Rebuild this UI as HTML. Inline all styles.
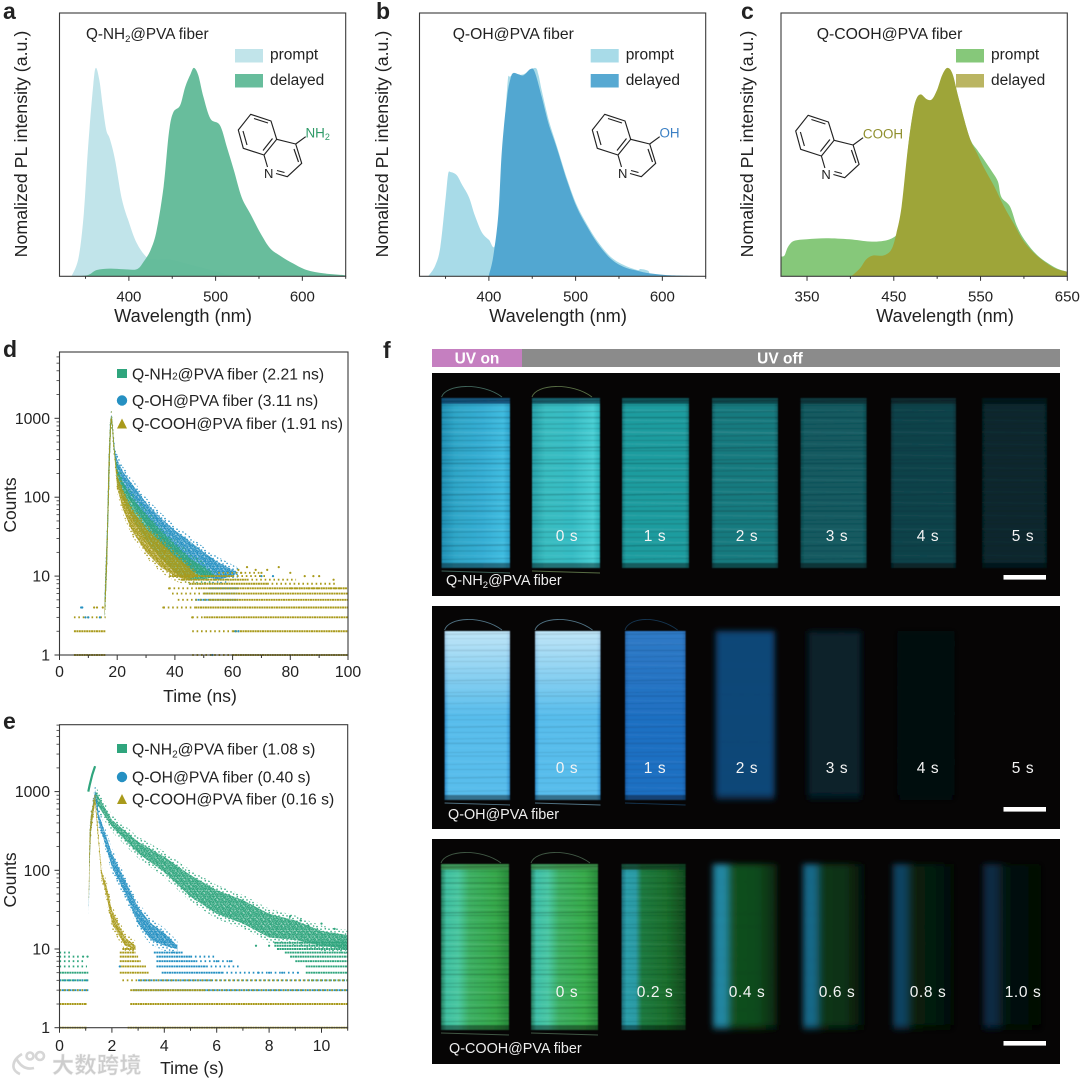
<!DOCTYPE html>
<html lang="en">
<head>
<meta charset="utf-8">
<title>Quinoline PVA fiber photoluminescence figure</title>
<style>
html,body{margin:0;padding:0;background:#fff;width:1080px;height:1081px;overflow:hidden}
svg{display:block}
text{font-family:"Liberation Sans","Noto Sans CJK SC",sans-serif;fill:#222}
</style>
</head>
<body>
<svg id="figure" xmlns="http://www.w3.org/2000/svg" width="1080" height="1081" viewBox="0 0 1080 1081">
<defs>
<filter id="soft" x="-10%" y="-10%" width="120%" height="120%"><feGaussianBlur stdDeviation="0.6"/></filter>
<filter id="softer" x="-15%" y="-10%" width="130%" height="120%"><feGaussianBlur stdDeviation="3"/></filter>
<linearGradient id="top-glow" x1="0" x2="0" y1="0" y2="1"><stop offset="0" stop-color="#fff" stop-opacity=".62"/><stop offset="1" stop-color="#fff" stop-opacity="0"/></linearGradient>
<pattern id="grain-green" width="6.6" height="6.6" patternUnits="userSpaceOnUse"></pattern>
<pattern id="grain-blue" width="6.6" height="6.6" patternUnits="userSpaceOnUse"></pattern>
<pattern id="grain-olive" width="6.6" height="6.6" patternUnits="userSpaceOnUse"></pattern>
<pattern id="halo-green" width="8" height="8" patternUnits="userSpaceOnUse"></pattern>
<pattern id="halo-blue" width="8" height="8" patternUnits="userSpaceOnUse"></pattern>
<pattern id="halo-olive" width="8" height="8" patternUnits="userSpaceOnUse"></pattern>
</defs>
<rect width="1080" height="1081" fill="#fff"/>

<text x="3" y="19" font-size="23" font-weight="bold" fill="#111">a</text>
<text x="376" y="19" font-size="23" font-weight="bold" fill="#111">b</text>
<text x="741" y="19" font-size="23" font-weight="bold" fill="#111">c</text>
<text x="3" y="357" font-size="23" font-weight="bold" fill="#111">d</text>
<text x="3" y="729" font-size="23" font-weight="bold" fill="#111">e</text>
<text x="383" y="358" font-size="23" font-weight="bold" fill="#111">f</text>

<g id="chart-a"></g>
<g id="chart-b"></g>
<g id="chart-c"></g>
<g id="chart-d"></g>
<g id="chart-e"></g>

<g>
<rect x="432" y="349" width="90" height="18" fill="#c57fc0"/>
<rect x="522" y="349" width="538" height="18" fill="#8b8b8b"/>
<text x="477" y="363.5" font-size="15.5" font-weight="bold" text-anchor="middle" style="fill:#fff">UV on</text>
<text x="780" y="363.5" font-size="15.5" font-weight="bold" text-anchor="middle" style="fill:#fff">UV off</text>
</g>
<g id="photos"></g>

<g opacity=".9">
<g fill="none" stroke="#d2d2d2" stroke-width="2.6">
<path d="M22 1054 C12 1060 10 1070 20 1074"/><path d="M16 1058 C20 1066 26 1070 34 1068"/>
<circle cx="30" cy="1056" r="3.5"/><circle cx="40" cy="1056" r="4"/>
</g>
<text x="52" y="1073" font-size="22" font-weight="bold" letter-spacing="0.5" style="fill:#c8c8c8;stroke:#eeeeee;stroke-width:.5">大数跨境</text>
</g>
</svg>

<script>
/* ---------- Panel a spectra (wavelength nm, normalized intensity) ---------- */
const aPromptWl  = [334,342,348,353,359,362,366,370,374,378,384,392,400,409,421,432,448,467,490,513,528];
const aPromptVal = [0,.09,.30,.62,.92,1,.94,.81,.70,.66,.56,.37,.26,.16,.09,.08,.08,.06,.035,.01,0];
const aDelayedWl  = [334,352,363,378,394,409,417,425,432,440,446,451,459,465,471,475,480,486,494,505,513,521,530,540,552,563,575,590,605,625,650];
const aDelayedVal = [0,.005,.03,.037,.034,.034,.07,.126,.22,.43,.685,.785,.82,.91,.97,1,.965,.86,.757,.725,.62,.51,.38,.30,.205,.134,.097,.06,.03,.014,.005];

/* ---------- Panel b spectra ---------- */
const bPromptWl  = [330,338,344,350,353,356,363,369,377,384,392,400,407,413,421,425,440,453,457,461,469,478,490,501,513,525,540,555,571,575,584,585];
const bPromptVal = [0,.05,.14,.37,.49,.50,.485,.44,.38,.29,.21,.175,.15,.37,.90,.96,.97,1,.97,.89,.75,.63,.47,.345,.25,.17,.095,.055,.03,.035,.025,0];
const bDelayedWl  = [400,405,411,415,421,425,428,434,440,448,453,461,469,478,490,501,513,525,540,555,571,586,609,650];
const bDelayedVal = [.006,.094,.30,.605,.86,.95,.975,.97,.965,.995,.98,.86,.73,.62,.46,.335,.24,.16,.086,.046,.027,.014,.005,0];

/* ---------- Panel c spectra ---------- */
const cPromptWl  = [320,324,328,335,350,372,399,422,438,450,455,461,466,472,476,481,488,494,500,506,512,518,525,537,546,554,562,570,574,584,592,602,617,637,650];
const cPromptVal = [.095,.10,.14,.17,.178,.183,.178,.167,.17,.187,.22,.335,.60,.78,.85,.87,.84,.84,.89,.96,1,.96,.85,.67,.607,.56,.51,.455,.38,.335,.24,.167,.095,.04,.022];
const cDelayedWl  = [401,411,418,426,438,447,453,459,466,472,476,481,488,494,500,506,512,518,525,537,546,554,566,577,589,600,616,635,650];
const cDelayedVal = [0,.038,.08,.10,.10,.127,.207,.335,.607,.784,.85,.873,.85,.85,.896,.968,1,.968,.85,.67,.59,.52,.43,.335,.247,.167,.095,.04,.022];

const spectrumMajorA = [400,500,600];
const spectrumMinorA = [350,450,550,650];
const spectrumMajorC = [350,450,550,650];
const spectrumMinorC = [400,500,600];

/* ---------- Panel d decay (time ns, counts): cloud envelopes ---------- */
const dOhTimes  = [15.6,16,16.5,17,17.5,17.9,18.2,18.7,19.2,20,22,25,30,35,40,45,50,55,60,62];
const dOhUpper  = [5,14,45,280,850,1100,1050,620,400,300,210,150,85,55,38,28,20,15,12,11];
const dOhLower  = [3,5,14,70,350,850,800,480,320,190,130,85,45,27,17,12,10,9,10,11];
const dNh2Times = [15.6,16,16.5,17,17.5,17.9,18.2,18.7,19.2,20,22,25,30,35,40,45,50,54];
const dNh2Upper = [4,12,40,250,800,1080,1030,600,360,230,155,100,60,38,25,17,13,10];
const dNh2Lower = [3,5,14,70,350,850,800,450,300,150,95,55,28,17,11,9,9,10];
const dCoohTimes = [15.6,16,16.5,17,17.5,17.9,18.2,18.7,19.2,20,22,25,30,35,40,44,48];
const dCoohUpper = [4,12,40,250,800,1080,1030,600,350,190,120,70,40,27,18,14,10];
const dCoohLower = [3,5,14,70,350,850,800,450,280,130,70,38,20,13,10,9,10];

/* row counts for the discrete low-count levels: level, first time, last time */
const dCoohDenseLevels = [1,2,1,2,3,4,5,6,7,8,9,10];
const dCoohDenseStarts = [5,5,60,60,50,47,52,50,48,45,42,38];
const dCoohDenseEnds   = [16,16,100,100,100,100,100,100,100,72,65,60];
const dCoohSparseLevels = [3,1,2,3,4,5,6,7,7,8,9,10,11];
const dCoohSparseStarts = [5,46,46,46,36,41,39,38,80,72,65,60,55];
const dCoohSparseEnds   = [16,60,60,50,47,52,50,48,100,96,82,72,70];
const dOhDenseLevels = [5,6,7];
const dOhDenseStarts = [47,50,52];
const dOhDenseEnds   = [62,62,62];
const dOutlierCoohTimes = [12,13,15,36,38,46,62,65,68,72,76,80,85,88,90,95,63,70];
const dOutlierCoohCounts = [4,4,4,4,7,3,12,13,12,12,13,11,10,10,10,9,11,11];
const dOutlierOhTimes = [7.5,7.9,9,10,14,53,61,62,70,74];
const dOutlierOhCounts = [4,4,3,3,3,1,2,2,10,10];

const dXTicks = [0,20,40,60,80,100];
const dXMinor = [10,30,50,70,90];
const dYTicks = [1,10,100,1000];

/* ---------- Panel e decay (time s, counts) ---------- */
const eNh2Times = [1.36,1.4,2,3,4,5,6,7,8,9,10,11];
const eNh2Upper = [1000,975,437,230,149,87,56,42,28,23,17,15];
const eNh2Lower = [960,710,358,165,95,46,28,21,14,13,11,10];
const eNh2BurstTimes = [1.1,1.15,1.2,1.25,1.3,1.36];
const eNh2BurstCounts = [1000,1200,1400,1650,1850,2100];
const eOhTimes = [1.12,1.15,1.2,1.3,1.36,1.5,2,2.5,3,3.5,4,4.5];
const eOhUpper = [40,300,500,800,1050,520,164,75,34,21,16,11];
const eOhLower = [30,120,300,600,800,400,110,51,21,13,11,10];
const eCoohTimes = [1.12,1.15,1.2,1.3,1.36,1.6,1.8,2,2.5,2.9];
const eCoohUpper = [60,300,500,750,920,100,62,31,14,11];
const eCoohLower = [40,120,300,550,700,85,46,21,11,10];

const eNh2DenseLevels = [5,4,10,11,12,9,8,7,6,5];
const eNh2DenseStarts = [0,0,8.3,8.2,8.2,8.6,8.8,9.0,9.4,9.4];
const eNh2DenseEnds   = [1.1,1.1,11,11,11,11,11,11,11,11];
const eNh2SparseLevels = [6,7,8,9,4];
const eNh2SparseStarts = [0,0,0,0,9.6];
const eNh2SparseEnds   = [1.05,.9,.8,.5,11];
const eOhDenseLevels = [3,5,6,7,8,9,4,3];
const eOhDenseStarts = [0,3.9,3.7,3.7,3.7,3.6,3.0,2.8];
const eOhDenseEnds   = [1.1,6.2,5.6,5.2,5.0,4.7,5.8,11];
const eOhSparseLevels = [4,5,6,7,8,4];
const eOhSparseStarts = [0,6.2,5.6,5.2,5.0,5.8];
const eOhSparseEnds   = [1.1,9,6.9,6.6,6,11];
const eCoohDenseLevels = [1,2,1,2,3,10,9,8,7,6,5];
const eCoohDenseStarts = [0,0,2.6,2.7,2.7,2.4,2.3,2.3,2.3,2.3,2.3];
const eCoohDenseEnds   = [1.05,1.05,11,11,5.5,2.9,2.9,3,3.1,3.3,3.4];
const eCoohSparseLevels = [3,3,4];
const eCoohSparseStarts = [0,5.5,2.4];
const eCoohSparseEnds   = [1.05,11,11];
const eOutlierNh2Times = [7.5,8,9.2,9.5,10,10.5,1.07,.9,8.8];
const eOutlierNh2Counts = [11,11,23,20,21,18,8,8,26];
const eOutlierOhTimes = [6,6.5,7.6,8,8.5,9.1,2.3];
const eOutlierOhCounts = [7,7,5,5,5,5,6];

const eXTicks = [0,2,4,6,8,10];
const eXMinor = [1,3,5,7,9,11];
const eYTicks = [1,10,100,1000];

const logMinorMultipliers = [2,3,4,5,6,7,8,9];

/* ---------- Photo content ---------- */
const streakFractions = [.02,.045,.07,.085,.115,.13,.155,.18,.2,.225,.25,.27,.295,.31,.335,.365,.385,.41,.43,.46,.48,.5,.525,.55,.57,.6,.615,.64,.665,.69,.72,.74,.77,.79,.82,.845,.87,.9,.925,.95];
const timeLabelsSeconds = ['0 s','1 s','2 s','3 s','4 s','5 s'];
const timeLabelsFraction = ['0 s','0.2 s','0.4 s','0.6 s','0.8 s','1.0 s'];

const NS = 'http://www.w3.org/2000/svg';
function el(tag, attrs, parent){
  const n = document.createElementNS(NS, tag);
  for (const k in attrs) n.setAttribute(k, attrs[k]);
  if (parent) parent.appendChild(n);
  return n;
}
function txt(content, attrs, parent){
  const n = el('text', attrs, parent);
  n.textContent = content;
  return n;
}

/* marker texture tiles used to give the point clouds a speckled look */
const denseTile = [[.6,.9],[2.4,.4],[4.3,1.1],[5.9,.3],[1.4,2.3],[3.2,2.2],[5.1,2.7],[.3,3.8],[2.2,3.9],[4.1,3.7],[6,4.2],[1.1,5.4],[3,5.6],[4.9,5.2],[6.2,6]];
const sparseTile = [[1,1.2],[5.3,.8],[3.1,3.4],[7,3.9],[1.6,6],[5,6.6]];
[['green','#2fa57d'],['blue','#2590c2'],['olive','#a99a1b']].forEach(([k,c]) => {
  const a = document.getElementById('grain-'+k);
  el('rect',{width:6.6,height:6.6,fill:c,opacity:.4},a);
  denseTile.forEach(p => el('circle',{cx:p[0],cy:p[1],r:.85,fill:c},a));
  const b = document.getElementById('halo-'+k);
  sparseTile.forEach(p => el('circle',{cx:p[0],cy:p[1],r:.8,fill:c},b));
});

/* ---------- generic axes ---------- */
function boxFrame(g, L, R, T, B){
  const r = el('rect',{x:L,y:T,width:R-L,height:B-T,fill:'none',stroke:'#3a3a3a','stroke-width':1.1},g);
  
  
}
function xTick(g, px, B, len){
  const t = el('line',{x1:px,x2:px,y1:B,y2:B+len,stroke:'#333','stroke-width':1},g);
  
  
}
function xTickLabel(g, value, px, y, size){
  const t = txt(String(value),{x:px,y:y,'font-size':size,'text-anchor':'middle'},g);
  
  
}

/* ---------- spectrum panel ---------- */
function spectrumPanel(id, L, R, titleSeries, opts){
  const g = document.getElementById(id);
  const T = 13, B = 276.3, wlMin = 320, wlMax = 650, yMax = 1.2636;
  const x = w => L + (w - wlMin) / (wlMax - wlMin) * (R - L);
  const y = v => B - v / yMax * (B - T);
  function area(wl, vals, fill, op, name){
    const P = wl.map((w,i) => [x(w), y(vals[i])]);
    let d = 'M' + P[0][0].toFixed(1) + ' ' + y(0).toFixed(1) + 'L' + P[0][0].toFixed(1) + ' ' + P[0][1].toFixed(1);
    for (let i = 0; i < P.length - 1; i++){
      const p0 = P[Math.max(i-1,0)], p1 = P[i], p2 = P[i+1], p3 = P[Math.min(i+2,P.length-1)];
      const c1x = p1[0] + (p2[0]-p0[0])/6, c1y = Math.min(p1[1] + (p2[1]-p0[1])/6, B);
      const c2x = p2[0] - (p3[0]-p1[0])/6, c2y = Math.min(p2[1] - (p3[1]-p1[1])/6, B);
      d += 'C' + c1x.toFixed(1)+' '+c1y.toFixed(1)+' '+c2x.toFixed(1)+' '+c2y.toFixed(1)+' '+p2[0].toFixed(1)+' '+p2[1].toFixed(1);
    }
    d += 'L' + P[P.length-1][0].toFixed(1) + ' ' + y(0).toFixed(1) + 'Z';
    const p = el('path',{d:d,fill:fill,opacity:op},g);
    
    
  }
  area(opts.promptWl, opts.promptVal, opts.promptColor, 1, 'prompt-area');
  area(opts.delayedWl, opts.delayedVal, opts.delayedColor, opts.delayedOpacity, 'delayed-area');
  boxFrame(g, L, R, T, B);
  opts.major.forEach(w => { xTick(g, x(w), B, 4.5); xTickLabel(g, w, x(w), 301.5, 15); });
  opts.minor.forEach(w => { xTick(g, x(w), B, 2.5); });
  const xt = txt('Wavelength (nm)',{x:opts.xTitleX,y:322,'font-size':18.2,'text-anchor':'middle'},g);
  
  
  const yt = txt('Nomalized PL intensity (a.u.)',{x:0,y:0,'font-size':17.8,'text-anchor':'middle',transform:'translate('+opts.yTitleX+',144) rotate(-90)'},g);
  
  
  /* sample title */
  const title = el('text',{x:opts.titleX,y:39,'font-size':opts.titleSize},g);
  
  
  titleSeries.forEach(part => {
    const s = el('tspan', part[1] ? {'font-size':9.5,dy:3} : {dy:part[2]||0}, title);
    s.textContent = part[0];
  });
  /* legend */
  const sw = opts.legendX;
  const s1 = el('rect',{x:sw,y:49,width:28,height:13.5,fill:opts.promptColor},g);
  
  
  const s2 = el('rect',{x:sw,y:74,width:28,height:13.5,fill:opts.legendDelayed},g);
  
  
  const l1 = txt('prompt',{x:sw+35,y:59.5,'font-size':15.5},g);
  
  
  const l2 = txt('delayed',{x:sw+35,y:85,'font-size':15.5},g);
  
  
  molecule(g, opts.molDx, opts.molDy, opts.subst, opts.substColor);
}

/* ---------- quinoline structure ---------- */
function molecule(g, dx, dy, subst, color){
  const m = el('g',{transform:'translate('+dx+','+dy+')',fill:'none',stroke:'#222','stroke-width':1.15,'stroke-linejoin':'round'},g);
  
  
  el('path',{d:'M264 155L243.3 148.3L238.3 130L250.7 114.3L271 121L276.7 139.3L264 155L267.5 167'},m);
  el('path',{d:'M276.7 139.3L295.7 144L301.7 163.3L287.3 176.7L276 173.5'},m);
  el('path',{d:'M295.7 144L305.7 136.7'},m);
  el('path',{d:'M254 118.5L268 123'},m);
  el('path',{d:'M243 131L247 145'},m);
  el('path',{d:'M272.5 138.5L263 150.5'},m);
  el('path',{d:'M294 149L298.5 162'},m);
  el('path',{d:'M284.5 172.5L277 170.5'},m);
  const n = txt('N',{x:264,y:178,'font-size':13,style:'fill:#222;stroke:none'},m);
  
  
  const s = el('text',{x:305.5,y:137.5,'font-size':13.4,style:'fill:'+color+';stroke:none'},m);
  
  
  subst.forEach(part => {
    const t = el('tspan', part[1] ? {'font-size':9,dy:2.5} : {}, s);
    t.textContent = part[0];
  });
}

spectrumPanel('chart-a',59.5,345.7,[['Q-NH'],['2',1],['@PVA fiber',0,-3]],{
  promptWl:aPromptWl,promptVal:aPromptVal,delayedWl:aDelayedWl,delayedVal:aDelayedVal,
  promptColor:'#c1e4ea',delayedColor:'#5fb996',delayedOpacity:.94,legendDelayed:'#67bd9c',
  major:spectrumMajorA,minor:spectrumMinorA,xTitleX:183,yTitleX:27,titleX:86,titleSize:15.3,legendX:235,
  molDx:0,molDy:0,subst:[['NH'],['2',1]],substColor:'#2f9a68'});
spectrumPanel('chart-b',419.5,705.7,[['Q-OH@PVA fiber']],{
  promptWl:bPromptWl,promptVal:bPromptVal,delayedWl:bDelayedWl,delayedVal:bDelayedVal,
  promptColor:'#a8dbe8',delayedColor:'#50a5cf',delayedOpacity:.97,legendDelayed:'#57a9d2',
  major:spectrumMajorA,minor:spectrumMinorA,xTitleX:558,yTitleX:388,titleX:452.7,titleSize:15.7,legendX:590.7,
  molDx:354,molDy:0,subst:[['OH']],substColor:'#3a7fc4'});
spectrumPanel('chart-c',781,1067.3,[['Q-COOH@PVA fiber']],{
  promptWl:cPromptWl,promptVal:cPromptVal,delayedWl:cDelayedWl,delayedVal:cDelayedVal,
  promptColor:'#86c87a',delayedColor:'#9ea539',delayedOpacity:1,legendDelayed:'#bab562',
  major:spectrumMajorC,minor:spectrumMinorC,xTitleX:945,yTitleX:753,titleX:816.7,titleSize:15.8,legendX:956,
  molDx:557.4,molDy:1,subst:[['COOH']],substColor:'#8f8f2e'});

/* ---------- decay panels ---------- */
function decayPanel(id, cfg){
  const g = document.getElementById(id);
  const {L,R,T,B,decade,xMax} = cfg;
  const x = t => L + t / xMax * (R - L);
  const y = c => B - Math.log10(c) * decade;
  const plot = el('g',{},g);
  
  
  function poly(times, up, low, fill, name){
    let d = '';
    times.forEach((t,i) => { d += (i ? 'L' : 'M') + x(t).toFixed(1) + ' ' + y(up[i]).toFixed(1); });
    for (let i = times.length - 1; i >= 0; i--) d += 'L' + x(times[i]).toFixed(1) + ' ' + y(low[i]).toFixed(1);
    const p = el('path',{d:d+'Z',fill:fill},plot);
    
    
  }
  function band(times, up, low, key, name){
    poly(times, up.map(v => v*1.16), low.map(v => v/1.16), 'url(#halo-'+key+')', name+'-scatter');
    poly(times, up, low, 'url(#grain-'+key+')', name);
  }
  function rows(levels, starts, ends, color, dash, name){
    levels.forEach((lv,i) => {
      const r = el('line',{x1:x(starts[i]),x2:x(Math.min(ends[i],xMax)),y1:y(lv),y2:y(lv),stroke:color,'stroke-width':1.9,'stroke-dasharray':dash},plot);
      
      
    });
  }
  function points(times, counts, color, name){
    times.forEach((t,i) => {
      const c = el('circle',{cx:x(t),cy:y(counts[i]),r:1.1,fill:color},plot);
      
      
    });
  }
  cfg.draw(band, rows, points, x, y, plot);
  boxFrame(g, L, R, T, B);
  cfg.xTicks.forEach(t => { xTick(g, x(t), B, 5); xTickLabel(g, t, x(t), cfg.xLabelY, 15.8); });
  cfg.xMinor.forEach(t => { xTick(g, x(t), B, 3); });
  cfg.yTicks.forEach(c => {
    const k = el('line',{x1:L-5,x2:L,y1:y(c),y2:y(c),stroke:'#333','stroke-width':1},g);
    
    
    const lb = txt(String(c),{x:50,y:y(c)+5.5,'font-size':15.8,'text-anchor':'end'},g);
    
    
    logMinorMultipliers.forEach(m => {
      const v = c * m;
      if (y(v) >= T) {
        const mk = el('line',{x1:L-3,x2:L,y1:y(v),y2:y(v),stroke:'#333','stroke-width':.8},g);
        
        
      }
    });
  });
  const xt = txt(cfg.xTitle,{x:cfg.xTitleX,y:cfg.xTitleY,'font-size':17.6,'text-anchor':'middle'},g);
  
  
  const yt = txt('Counts',{x:0,y:0,'font-size':17.4,'text-anchor':'middle',transform:'translate(16,'+cfg.yTitleY+') rotate(-90)'},g);
  
  
  cfg.legend.forEach(item => {
    const c = item.y;
    let m;
    if (item.shape === 'square') m = el('rect',{x:117,y:c-5,width:10,height:9,fill:item.color},g);
    else if (item.shape === 'circle') m = el('circle',{cx:122,cy:c,r:5.2,fill:item.color},g);
    else m = el('path',{d:'M117 '+(c+5)+'L122 '+(c-5)+'L127 '+(c+5)+'Z',fill:item.color},g);
    
    
    const t = el('text',{x:132,y:c+5.5,'font-size':15.7},g);
    
    
    item.parts.forEach(part => {
      const s = el('tspan', part[1] ? {'font-size':part[1],dy:part[2]} : {dy:part[2]||0}, t);
      s.textContent = part[0];
    });
  });
}

const GREEN = '#2fa57d', BLUE = '#2590c2', OLIVE = '#a99a1b';
const DENSE = '2 .45', SPARSE = '1.6 2.8';

decayPanel('chart-d',{
  L:59.5,R:348,T:352,B:655,decade:78.9,xMax:100,
  xTicks:dXTicks,xMinor:dXMinor,yTicks:dYTicks,xLabelY:677,xTitle:'Time (ns)',xTitleX:200,xTitleY:702,yTitleY:505,
  legend:[
    {shape:'square',color:GREEN,y:374,parts:[['Q-NH'],['2',10,0],['@PVA fiber (2.21 ns)',15.7,0]]},
    {shape:'circle',color:BLUE,y:400.5,parts:[['Q-OH@PVA fiber (3.11 ns)']]},
    {shape:'triangle',color:OLIVE,y:423.5,parts:[['Q-COOH@PVA fiber (1.91 ns)']]}
  ],
  draw(band, rows, points){
    band(dOhTimes,dOhUpper,dOhLower,'blue','oh-decay-cloud');
    band(dNh2Times,dNh2Upper,dNh2Lower,'green','nh2-decay-cloud');
    rows(dOhDenseLevels,dOhDenseStarts,dOhDenseEnds,BLUE,DENSE,'oh-count-row');
    rows(dCoohDenseLevels,dCoohDenseStarts,dCoohDenseEnds,OLIVE,DENSE,'cooh-count-row');
    rows(dCoohSparseLevels,dCoohSparseStarts,dCoohSparseEnds,OLIVE,SPARSE,'cooh-sparse-count-row');
    band(dCoohTimes,dCoohUpper,dCoohLower,'olive','cooh-decay-cloud');
    points(dOutlierOhTimes,dOutlierOhCounts,BLUE,'oh-outlier-point');
    points(dOutlierCoohTimes,dOutlierCoohCounts,OLIVE,'cooh-outlier-point');
  }
});

decayPanel('chart-e',{
  L:59.5,R:347.7,T:724.7,B:1027.7,decade:78.7,xMax:11,
  xTicks:eXTicks,xMinor:eXMinor,yTicks:eYTicks,xLabelY:1051,xTitle:'Time (s)',xTitleX:192,xTitleY:1074,yTitleY:880,
  legend:[
    {shape:'square',color:GREEN,y:749,parts:[['Q-NH'],['2',10,3],['@PVA fiber (1.08 s)',15.7,-3]]},
    {shape:'circle',color:BLUE,y:777,parts:[['Q-OH@PVA fiber (0.40 s)']]},
    {shape:'triangle',color:OLIVE,y:799,parts:[['Q-COOH@PVA fiber (0.16 s)']]}
  ],
  draw(band, rows, points, x, y, plot){
    rows(eNh2DenseLevels,eNh2DenseStarts,eNh2DenseEnds,GREEN,DENSE,'nh2-count-row');
    rows(eNh2SparseLevels,eNh2SparseStarts,eNh2SparseEnds,GREEN,SPARSE,'nh2-sparse-count-row');
    band(eNh2Times,eNh2Upper,eNh2Lower,'green','nh2-decay-cloud');
    const burst = el('polyline',{points:eNh2BurstTimes.map((t,i)=>x(t).toFixed(1)+','+y(eNh2BurstCounts[i]).toFixed(1)).join(' '),fill:'none',stroke:GREEN,'stroke-width':2.2},plot);
    
    
    rows(eOhDenseLevels,eOhDenseStarts,eOhDenseEnds,BLUE,DENSE,'oh-count-row');
    rows(eOhSparseLevels,eOhSparseStarts,eOhSparseEnds,BLUE,SPARSE,'oh-sparse-count-row');
    band(eOhTimes,eOhUpper,eOhLower,'blue','oh-decay-cloud');
    rows(eCoohDenseLevels,eCoohDenseStarts,eCoohDenseEnds,OLIVE,DENSE,'cooh-count-row');
    rows(eCoohSparseLevels,eCoohSparseStarts,eCoohSparseEnds,OLIVE,SPARSE,'cooh-sparse-count-row');
    band(eCoohTimes,eCoohUpper,eCoohLower,'olive','cooh-decay-cloud');
    points(eOutlierNh2Times,eOutlierNh2Counts,GREEN,'nh2-outlier-point');
    points(eOutlierOhTimes,eOutlierOhCounts,BLUE,'oh-outlier-point');
  }
});

/* ---------- photographs of fiber spools ---------- */
const photos = document.getElementById('photos');
const defs = document.querySelector('defs');
let gradCount = 0;
function hGrad(stops){
  const id = 'spool-grad-' + (gradCount++);
  const lg = el('linearGradient',{id:id,x1:0,x2:1,y1:0,y2:0},defs);
  stops.forEach(s => el('stop',{offset:s[0],'stop-color':s[1]},lg));
  return id;
}
function photoPanel(top, bottom, name, spools, labels, labelY, sampleName, sampleX, sampleY, sampleParts, barY, y0, y1){
  const g = el('g',{},photos);
  
  
  const bg = el('rect',{x:432,y:top,width:628,height:bottom-top,fill:'#060505'},g);
  
  
  spools.forEach(s => {
    const w = s.x1 - s.x0, h = y1 - y0;
    if (s.wire) {
      const wr = el('path',{d:'M'+s.x0+' '+(y0-1)+'C'+(s.x0+4)+' '+(y0-14)+' '+(s.x1-28)+' '+(y0-16)+' '+(s.x1-8)+' '+(y0-1)+'M'+s.x0+' '+(y0+h+3)+'L'+s.x1+' '+(y0+h+5),fill:'none',stroke:s.wire,'stroke-width':.9,opacity:.7},g);
      
      
    }
    const sp = el('g',{filter:s.blur ? 'url(#softer)' : 'url(#soft)'},g);
    
    
    el('rect',{x:s.x0,y:y0,width:w,height:h,fill:'url(#'+hGrad(s.stops)+')'},sp);
    if (s.glow) el('rect',{x:s.x0,y:y0,width:w,height:h*.5,fill:'url(#top-glow)',opacity:s.glow},sp);
    if (s.top) el('rect',{x:s.x0,y:y0,width:w,height:h*.035,fill:s.top,opacity:s.topOp||.8},sp);
    el('rect',{x:s.x0,y:y1-h*.03,width:w,height:h*.03,fill:'#000',opacity:.4},sp);
    streakFractions.forEach((f,i) => {
      el('line',{x1:s.x0,x2:s.x1,y1:y0+h*f,y2:y0+h*f+(i%3)-1,stroke:i%3===2?'#fff':'#000',opacity:(i%3===2?.09:.2)*(s.streak||1),'stroke-width':i%4===0?1.4:.8},sp);
    });
  });
  labels.forEach((t,i) => {
    const lb = txt(t,{x:[567,655,747,837,928,1023][i],y:labelY,'font-size':15.5,'text-anchor':'middle','letter-spacing':'.6',style:'fill:#f4f4f4'},g);
    
    
  });
  const sample = el('text',{x:sampleX,y:sampleY,'font-size':14.4,style:'fill:#eee'},g);
  
  
  sampleParts.forEach(part => {
    const s = el('tspan', part[1] ? {'font-size':9.5,dy:part[2]} : {dy:part[2]||0}, sample);
    s.textContent = part[0];
  });
  const bar = el('rect',{x:1003.5,y:barY,width:42.5,height:4.6,fill:'#fff'},g);
  
  
}
function flat(c0,c1){ return [[0,c0],[.06,c1],[.5,c1],[.94,c1],[1,c0]]; }

photoPanel(373,596,'photo-panel-nh2',[
  {x0:441.6,x1:510,wire:'#5a8f80',stops:[[0,'#1f8fb4'],[.2,'#2fa6c8'],[.6,'#35aed4'],[.9,'#3fbce0'],[1,'#2aa0c8']],top:'#0e3f66'},
  {x0:532,x1:600,wire:'#7a9a60',stops:[[0,'#28a0a8'],[.2,'#38bcc0'],[.6,'#36bcc4'],[.9,'#48cfd4'],[1,'#2ab0b8']],top:'#114a58'},
  {x0:622,x1:689,stops:flat('#15797c','#1f9c9f'),top:'#0d4448'},
  {x0:712,x1:778,stops:flat('#0f5e63','#187a7f'),top:'#0c3d42'},
  {x0:800.5,x1:866.6,stops:flat('#0b464b','#125a60'),top:'#093035',streak:.7},
  {x0:891,x1:956,stops:flat('#08333a','#0e424a'),top:'#072328',streak:.5},
  {x0:982,x1:1047,stops:flat('#051c20','#08282d'),top:'#041416',streak:.3}
],timeLabelsSeconds,541,'sample-label-nh2',446,585,[['Q-NH'],['2',1,3],['@PVA fiber',0,-3]],575,398,568);

photoPanel(606,829,'photo-panel-oh',[
  {x0:444.6,x1:510,wire:'#6fa0b8',glow:1,stops:flat('#2f90d0','#58bdec'),streak:.5},
  {x0:535,x1:600.5,wire:'#6fa0b8',glow:1,stops:flat('#2f90d0','#58bdec'),streak:.5},
  {x0:625,x1:685.6,wire:'#1c4a70',glow:.12,stops:flat('#185ea8','#1f70c2'),streak:.5},
  {x0:715.5,x1:775,blur:1,stops:flat('#0a3360','#0f4778'),streak:.3},
  {x0:807,x1:862,blur:1,stops:flat('#050f16','#07202c'),streak:.15},
  {x0:897,x1:955,blur:1,stops:flat('#050606','#060c10'),streak:.1}
],timeLabelsSeconds,773,'sample-label-oh',448,819,[['Q-OH@PVA fiber']],807,631,800);

photoPanel(839,1064,'photo-panel-cooh',[
  {x0:441,x1:509,wire:'#5a7a60',stops:[[0,'#247a5c'],[.08,'#3fbfa0'],[.25,'#49c7a0'],[.42,'#3db064'],[.8,'#35a84a'],[1,'#288a3a']],top:'#3c8a48'},
  {x0:531,x1:598,wire:'#5a7a60',stops:[[0,'#247a5c'],[.08,'#3fbfa8'],[.25,'#49c7a4'],[.42,'#3db064'],[.8,'#37ab4a'],[1,'#288a3a']],top:'#3c8a48'},
  {x0:621.5,x1:685.6,stops:[[0,'#1c6c78'],[.08,'#2a9eaa'],[.22,'#2a9aa4'],[.32,'#1d7a40'],[.7,'#1a6e2c'],[1,'#10491e']],top:'#123f22',streak:.6},
  {x0:712,x1:777,blur:1,stops:[[0,'#124c60'],[.08,'#2488a4'],[.2,'#2488a4'],[.32,'#125020'],[.7,'#0f4a1c'],[1,'#072510']],streak:.4},
  {x0:802,x1:864,blur:1,stops:[[0,'#0b3243'],[.08,'#196b8c'],[.2,'#186888'],[.34,'#0c3618'],[.7,'#0a3014'],[1,'#050f07']],streak:.2},
  {x0:892,x1:954,blur:1,stops:[[0,'#08222f'],[.08,'#104564'],[.2,'#104260'],[.36,'#072008'],[.7,'#061a09'],[1,'#050806']],streak:.1},
  {x0:982,x1:1042,blur:1,stops:[[0,'#061018'],[.08,'#0c2b44'],[.22,'#0b2a42'],[.4,'#051207'],[.7,'#051007'],[1,'#050605']],streak:.1}
],timeLabelsFraction,997,'sample-label-cooh',449,1053,[['Q-COOH@PVA fiber']],1041,864,1030);
</script>
</body>
</html>
